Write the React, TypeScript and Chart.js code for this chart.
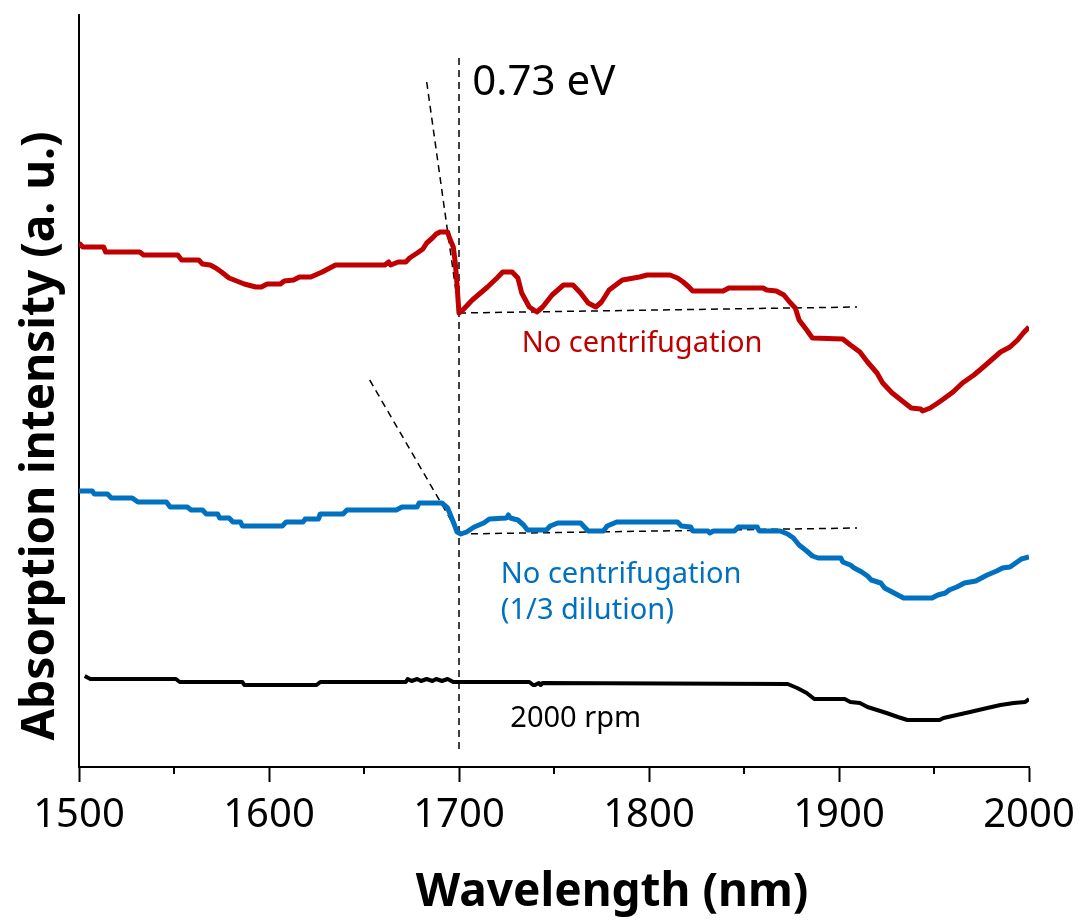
import React, { useEffect, useRef } from "react";
import { Chart, registerables } from "chart.js";

Chart.register(...registerables);

// Wavelength (nm) / absorption intensity (a.u.) pairs
const redWavelength = [1500, 1502, 1513, 1514, 1532, 1534, 1552, 1554, 1563, 1565, 1569, 1572, 1575, 1579, 1583, 1587, 1593, 1596, 1599, 1606, 1608, 1613, 1616, 1622, 1628, 1632, 1635, 1661, 1663, 1664, 1668, 1672, 1674, 1678, 1681, 1683, 1686, 1688, 1690, 1694, 1695, 1697, 1698, 1699, 1699.5, 1700, 1702, 1707, 1715, 1720, 1723, 1728, 1731, 1733, 1737, 1741, 1744, 1749, 1755, 1760, 1764, 1768, 1772, 1775, 1779, 1786, 1795, 1799, 1811, 1815, 1818, 1821, 1823, 1839, 1842, 1860, 1862, 1867, 1871, 1874, 1877, 1879, 1883, 1886, 1902, 1906, 1911, 1915, 1920, 1923, 1928, 1934, 1938, 1943, 1944, 1948, 1952, 1955, 1960, 1965, 1971, 1976, 1979, 1985, 1990, 1994, 1997, 2000];
const redIntensity = [5.24, 5.20, 5.20, 5.15, 5.15, 5.12, 5.12, 5.07, 5.07, 5.03, 5.02, 4.99, 4.95, 4.89, 4.86, 4.83, 4.80, 4.80, 4.83, 4.83, 4.86, 4.87, 4.90, 4.90, 4.95, 4.99, 5.02, 5.02, 5.05, 5.02, 5.05, 5.05, 5.09, 5.14, 5.18, 5.24, 5.29, 5.33, 5.35, 5.35, 5.29, 5.20, 5.05, 4.82, 4.67, 4.54, 4.57, 4.67, 4.80, 4.89, 4.95, 4.95, 4.89, 4.74, 4.60, 4.55, 4.60, 4.72, 4.82, 4.82, 4.74, 4.64, 4.60, 4.65, 4.77, 4.87, 4.90, 4.92, 4.92, 4.89, 4.85, 4.80, 4.76, 4.76, 4.79, 4.79, 4.77, 4.76, 4.72, 4.65, 4.59, 4.47, 4.37, 4.29, 4.28, 4.22, 4.15, 4.05, 3.94, 3.84, 3.74, 3.65, 3.59, 3.58, 3.56, 3.59, 3.64, 3.68, 3.75, 3.84, 3.92, 4.00, 4.05, 4.15, 4.20, 4.27, 4.34, 4.40];

const blueWavelength = [1500, 1507, 1508, 1515, 1517, 1528, 1531, 1546, 1548, 1557, 1559, 1565, 1567, 1573, 1574, 1579, 1581, 1585, 1586, 1607, 1609, 1618, 1619, 1626, 1627, 1639, 1641, 1667, 1670, 1678, 1679, 1691, 1694, 1697, 1699, 1701, 1704, 1708, 1713, 1716, 1725, 1726, 1727, 1731, 1734, 1736, 1746, 1748, 1752, 1764, 1766, 1768, 1776, 1778, 1783, 1815, 1817, 1822, 1823, 1831, 1832, 1834, 1845, 1847, 1857, 1858, 1869, 1873, 1876, 1879, 1883, 1886, 1889, 1901, 1902, 1906, 1908, 1912, 1915, 1917, 1922, 1924, 1928, 1931, 1934, 1949, 1952, 1956, 1958, 1962, 1966, 1972, 1974, 1978, 1983, 1986, 1990, 1993, 1996, 2000];
const blueIntensity = [2.76, 2.76, 2.73, 2.73, 2.69, 2.69, 2.65, 2.65, 2.60, 2.60, 2.57, 2.57, 2.53, 2.53, 2.49, 2.49, 2.45, 2.45, 2.41, 2.41, 2.45, 2.45, 2.48, 2.48, 2.53, 2.53, 2.57, 2.57, 2.60, 2.60, 2.64, 2.64, 2.59, 2.45, 2.35, 2.33, 2.35, 2.40, 2.44, 2.48, 2.49, 2.52, 2.49, 2.47, 2.42, 2.37, 2.37, 2.41, 2.44, 2.44, 2.40, 2.36, 2.36, 2.41, 2.45, 2.45, 2.41, 2.40, 2.36, 2.36, 2.34, 2.36, 2.36, 2.40, 2.40, 2.36, 2.36, 2.33, 2.29, 2.22, 2.16, 2.11, 2.09, 2.09, 2.05, 2.02, 1.99, 1.95, 1.91, 1.87, 1.84, 1.79, 1.75, 1.72, 1.69, 1.69, 1.72, 1.74, 1.77, 1.80, 1.84, 1.86, 1.88, 1.92, 1.96, 1.99, 2.00, 2.04, 2.08, 2.10];

const blackWavelength = [1503, 1506, 1551, 1553, 1586, 1587, 1625, 1627, 1672, 1673, 1675, 1678, 1680, 1683, 1686, 1688, 1691, 1694, 1695, 1697, 1737, 1739, 1740, 1742, 1743, 1744, 1873, 1878, 1883, 1887, 1903, 1906, 1911, 1915, 1920, 1925, 1931, 1936, 1953, 1955, 1962, 1969, 1978, 1985, 1992, 1998, 2000];
const blackIntensity = [0.91, 0.88, 0.88, 0.85, 0.85, 0.82, 0.82, 0.85, 0.85, 0.88, 0.86, 0.88, 0.86, 0.88, 0.86, 0.88, 0.86, 0.88, 0.87, 0.85, 0.85, 0.82, 0.82, 0.84, 0.82, 0.84, 0.83, 0.79, 0.74, 0.68, 0.68, 0.65, 0.64, 0.60, 0.57, 0.54, 0.50, 0.47, 0.47, 0.49, 0.52, 0.55, 0.59, 0.62, 0.64, 0.65, 0.68];

// Dashed guide lines (band-gap construction)
const edgeLineX = [1700, 1700];
const edgeLineY = [7.09, 0.15];
const redTangentX = [1683, 1700];
const redTangentY = [6.85, 4.54];
const redBaseX = [1700, 1909.5];
const redBaseY = [4.54, 4.60];
const blueTangentX = [1653, 1700];
const blueTangentY = [3.87, 2.33];
const blueBaseX = [1700, 1909.5];
const blueBaseY = [2.33, 2.39];

const xTicks = [1500, 1600, 1700, 1800, 1900, 2000];
const xMinorTicks = [1550, 1650, 1750, 1850, 1950];

const seriesLabels = ["No centrifugation", "No centrifugation (1/3 dilution)", "2000 rpm"];
const gapLabel = "0.73 eV";
const xTitle = "Wavelength (nm)";
const yTitle = "Absorption intensity (a. u.)";

const RED = "#C00000";
const BLUE = "#0070C0";
const BLACK = "#000000";
const FONT = '"Noto Sans", "DejaVu Sans", sans-serif';

function pts(xs: number[], ys: number[]) {
  return xs.map((x, i) => ({ x, y: ys[i] }));
}

const annotationPlugin = {
  id: "annotations",
  afterDraw(chart: any) {
    const { ctx, scales } = chart;
    const xs = scales.x;
    const ys = scales.y;
    const px = (v: number) => xs.getPixelForValue(v);
    const py = (v: number) => ys.getPixelForValue(v);
    ctx.save();
    // minor ticks
    ctx.strokeStyle = BLACK;
    ctx.lineWidth = 2;
    const bottom = chart.chartArea.bottom;
    xMinorTicks.forEach((t) => {
      ctx.beginPath();
      ctx.moveTo(px(t), bottom);
      ctx.lineTo(px(t), bottom + 7);
      ctx.stroke();
    });
    // labels
    ctx.textAlign = "left";
    ctx.textBaseline = "alphabetic";
    ctx.fillStyle = BLACK;
    ctx.font = `42px ${FONT}`;
    ctx.fillText(gapLabel, px(1707), py(6.72));
    ctx.font = `29px ${FONT}`;
    ctx.fillStyle = RED;
    ctx.fillText(seriesLabels[0], px(1733), py(4.15));
    ctx.fillStyle = BLUE;
    ctx.fillText("No centrifugation", px(1722), py(1.84));
    ctx.fillText("(1/3 dilution)", px(1722), py(1.48));
    ctx.fillStyle = BLACK;
    ctx.fillText(seriesLabels[2], px(1727), py(0.40));
    // axis titles
    ctx.font = `bold 46px ${FONT}`;
    ctx.textAlign = "center";
    ctx.fillText(xTitle, 612, 906);
    ctx.translate(54, 436);
    ctx.rotate(-Math.PI / 2);
    ctx.fillText(yTitle, 0, 0);
    ctx.restore();
  },
};

export default function App() {
  const canvasRef = useRef<HTMLCanvasElement | null>(null);

  useEffect(() => {
    if (!canvasRef.current) return;
    const dashed = (xs: number[], ys: number[]) => ({
      label: "guide",
      data: pts(xs, ys),
      borderColor: BLACK,
      borderWidth: 1.5,
      borderDash: [7, 5],
      pointRadius: 0,
      fill: false,
    });
    const chart = new Chart(canvasRef.current, {
      type: "line",
      data: {
        datasets: [
          { label: seriesLabels[0], data: pts(redWavelength, redIntensity), borderColor: RED, borderWidth: 5, pointRadius: 0, fill: false, borderJoinStyle: "round" },
          { label: seriesLabels[1], data: pts(blueWavelength, blueIntensity), borderColor: BLUE, borderWidth: 5, pointRadius: 0, fill: false, borderJoinStyle: "round" },
          { label: seriesLabels[2], data: pts(blackWavelength, blackIntensity), borderColor: BLACK, borderWidth: 4, pointRadius: 0, fill: false, borderJoinStyle: "round" },
          dashed(edgeLineX, edgeLineY),
          dashed(redTangentX, redTangentY),
          dashed(redBaseX, redBaseY),
          dashed(blueTangentX, blueTangentY),
          dashed(blueBaseX, blueBaseY),
        ] as any,
      },
      options: {
        animation: false,
        responsive: false,
        devicePixelRatio: 1,
        layout: { padding: { left: 0, right: 50, top: 15, bottom: 0 } },
        plugins: { legend: { display: false }, tooltip: { enabled: false } },
        elements: { line: { tension: 0 } },
        scales: {
          x: {
            type: "linear",
            min: 1500,
            max: 2000,
            afterFit: (s: any) => {
              s.height = 153;
              s.paddingLeft = 0;
              s.paddingRight = 0;
            },
            afterBuildTicks: (s: any) => { s.ticks = xTicks.map((v) => ({ value: v })); },
            ticks: {
              color: BLACK,
              font: { size: 40, family: FONT },
              padding: 10,
              maxRotation: 0,
              autoSkip: false,
              callback: (v: any) => String(v),
            },
            grid: { display: true, drawOnChartArea: false, drawTicks: true, tickLength: 15, tickColor: BLACK, tickWidth: 2 },
            border: { display: true, color: BLACK, width: 2 },
          },
          y: {
            type: "linear",
            min: 0,
            max: 7.52,
            afterFit: (s: any) => {
              s.width = 79;
              s.paddingTop = 0;
              s.paddingBottom = 0;
            },
            ticks: { display: false },
            grid: { display: false },
            border: { display: true, color: BLACK, width: 2 },
          },
        },
      } as any,
      plugins: [annotationPlugin],
    });
    return () => chart.destroy();
  }, []);

  return (
    <div style={{ position: "fixed", left: 0, top: 0, width: 1079, height: 920, background: "#fff" }}>
      <canvas ref={canvasRef} width={1079} height={920} style={{ width: 1079, height: 920, display: "block" }} />
    </div>
  );
}
